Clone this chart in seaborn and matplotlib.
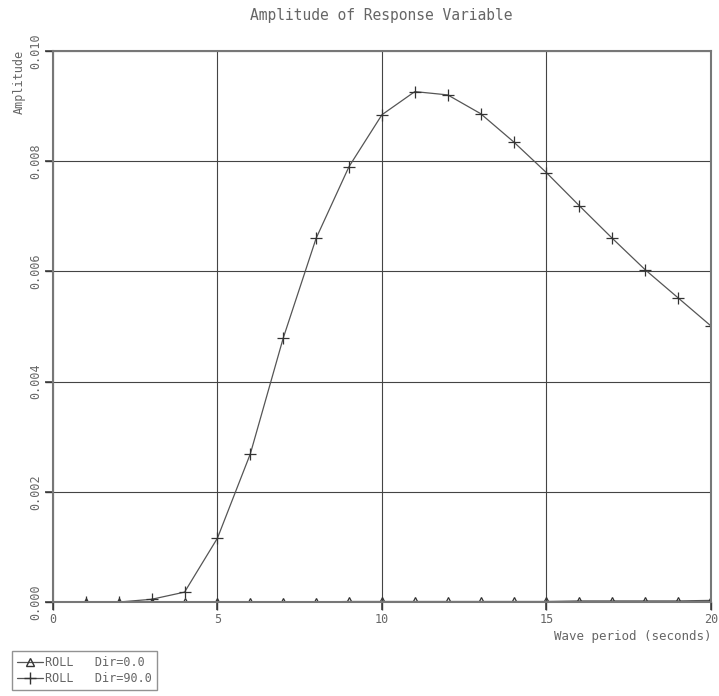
import matplotlib
matplotlib.use("Agg")
import matplotlib.pyplot as plt
import seaborn as sns
import pandas as pd
from matplotlib.lines import Line2D

# Wave periods (s)
periods = [1, 2, 3, 4, 5, 6, 7, 8, 9, 10, 11, 12, 13, 14, 15, 16, 17, 18, 19, 20]

# Roll response amplitude, heading 0 deg
roll_dir0 = [0.0, 0.0, 0.0, 0.0, 0.0, 0.0, 0.0, 0.0, 0.00001, 0.00001,
             0.00001, 0.00001, 0.00001, 0.00001, 0.00001, 0.00002, 0.00002,
             0.00002, 0.00002, 0.00003]

# Roll response amplitude, heading 90 deg
roll_dir90 = [0.0, 0.0, 0.00005, 0.00018, 0.00116, 0.00269, 0.00479, 0.0066,
              0.0079, 0.00884, 0.00926, 0.0092, 0.00886, 0.00835, 0.00779,
              0.00719, 0.0066, 0.00603, 0.00552, 0.00501]

series_labels = ["ROLL   Dir=0.0", "ROLL   Dir=90.0"]
x_ticks = [0, 5, 10, 15, 20]
y_ticks = [0.000, 0.002, 0.004, 0.006, 0.008, 0.010]

df0 = pd.DataFrame({"period": periods, "amp": roll_dir0})
df90 = pd.DataFrame({"period": periods, "amp": roll_dir90})

sns.set_style("white", {"xtick.bottom": True, "ytick.left": True})
plt.rcParams["font.family"] = ["DejaVu Sans Mono"]
text_col = "#666666"
line_col = "#555555"
mark_col = "#333333"
tick_col = "#3a3a3a"

fig = plt.figure(figsize=(7.19, 6.96), dpi=100)
ax = fig.add_axes([0.0737, 0.135, 0.915, 0.792])

sns.lineplot(data=df90, x="period", y="amp", color=line_col, linewidth=0.9, ax=ax)
sns.lineplot(data=df0, x="period", y="amp", color=line_col, linewidth=0.9, ax=ax)

# Markers: plus for Dir=90, hollow triangles for Dir=0
l90, l0 = ax.lines[0], ax.lines[1]
l90.set_marker("+")
l90.set_markersize(9)
l90.set_markeredgecolor(mark_col)
l90.set_markeredgewidth(0.9)
l0.set_marker("^")
l0.set_markersize(6)
l0.set_markerfacecolor("none")
l0.set_markeredgecolor(mark_col)
l0.set_markeredgewidth(0.9)

ax.set_xlim(0, 20)
ax.set_ylim(0, 0.010)
ax.set_xticks(x_ticks)
ax.set_yticks(y_ticks)
ax.set_xticklabels([str(t) for t in x_ticks])
ax.set_yticklabels([f"{t:.3f}" for t in y_ticks], rotation=90, va="center")
ax.grid(True, color="#444444", linewidth=0.8)
ax.tick_params(axis="both", which="major", bottom=True, left=True,
               direction="out", length=6, width=1.1, color=tick_col,
               labelsize=8.5, labelcolor=text_col, pad=2)

# outward tick marks drawn at each tick value, just outside the frame
ax.vlines(x_ticks, -0.014, 0.0, transform=ax.get_xaxis_transform(),
          colors=tick_col, linewidth=1.0, clip_on=False)
ax.hlines(y_ticks, -0.012, 0.0, transform=ax.get_yaxis_transform(),
          colors=tick_col, linewidth=1.0, clip_on=False)

for s in ax.spines.values():
    s.set_color("#777777")
    s.set_linewidth(1.5)

ax.set_xlabel("")
ax.set_ylabel("")
fig.text(0.53, 0.978, "Amplitude of Response Variable", ha="center", va="center",
         fontsize=10.5, color=text_col)
fig.text(0.027, 0.928, "Amplitude", rotation=90, ha="center", va="top",
         fontsize=8.5, color=text_col)
fig.text(0.989, 0.086, "Wave period (seconds)", ha="right", va="center",
         fontsize=9, color=text_col)

handles = [
    Line2D([0, 1], [0, 0], color=line_col, linewidth=0.9, marker="^",
           markersize=6, markevery=[1], markerfacecolor="none",
           markeredgecolor=mark_col),
    Line2D([0, 1], [0, 0], color=line_col, linewidth=0.9, marker="+",
           markersize=9, markevery=[1], markeredgecolor=mark_col),
]
leg = fig.legend(handles, series_labels, loc="lower left",
                 bbox_to_anchor=(0.008, 0.0), frameon=True, fancybox=False,
                 fontsize=8.5, handlelength=2.2, handletextpad=0.2,
                 borderpad=0.45, labelspacing=0.25, labelcolor=text_col,
                 numpoints=1)
leg.get_frame().set_edgecolor("#777777")
leg.get_frame().set_linewidth(1.0)

fig.savefig("out.png", dpi=100)
